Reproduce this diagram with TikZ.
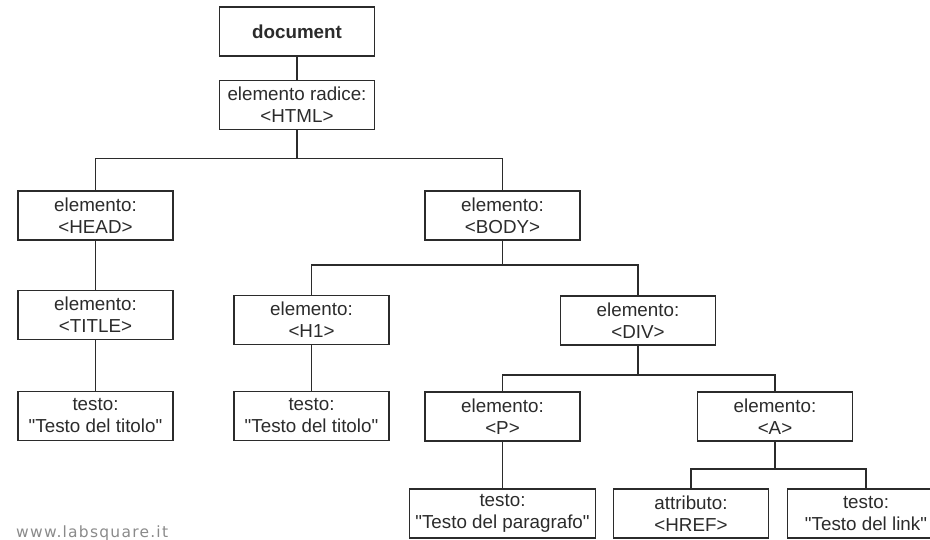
\documentclass[tikz,border=0pt]{standalone}
\usepackage{fontspec}
\setmainfont{Liberation Sans}
\newfontfamily\wmfont{DejaVu Sans}[LetterSpace=8]
\definecolor{domInk}{HTML}{2B2B2B}
\definecolor{domGray}{HTML}{8A8A8A}
\newcommand{\dq}{\textquotedbl}

\begin{document}
\begin{tikzpicture}[x=1pt,y=-1pt]
    \tikzstyle{dombox}=[draw=domInk, line width=1.6pt, minimum width=155pt,
      minimum height=49pt, inner sep=1pt, align=center, text=domInk,
      font=\fontsize{18.8}{22}\selectfont]
    \tikzstyle{branch}=[draw=domInk, line width=1.5pt]

    \clip (0,0) rectangle (930,539);

    \node[dombox, font=\fontsize{18.8}{22}\selectfont\bfseries] (doc) at (297,31.5) {document};
    \node[dombox] (html) at (297,105) {elemento radice:\\<HTML>};
    \node[dombox] (head) at (95.5,215.5) {elemento:\\<HEAD>};
    \node[dombox] (body) at (502.5,215.5) {elemento:\\<BODY>};
    \node[dombox] (title) at (95.5,315) {elemento:\\<TITLE>};
    \node[dombox] (h1) at (311.5,320) {elemento:\\<H1>};
    \node[dombox] (div) at (638,320.5) {elemento:\\<DIV>};
    \node[dombox] (txttitle) at (95.5,416) {testo:\\\dq Testo del titolo\dq};
    \node[dombox] (txth1) at (311.5,416) {testo:\\\dq Testo del titolo\dq};
    \node[dombox] (p) at (502.5,416.5) {elemento:\\<P>};
    \node[dombox] (a) at (775,416.5) {elemento:\\<A>};
    \node[dombox, minimum width=186pt] (txtpar) at (502.5,513.5) {testo:\\\dq Testo del paragrafo\dq};
    \node[dombox] (href) at (691,513.5) {attributo:\\<HREF>};
    \node[dombox, minimum width=157pt] (txtlink) at (866,513.5) {testo:\\\dq Testo del link\dq};

    \node[anchor=base west, inner sep=0pt, text=domGray, font=\wmfont\fontsize{15.5}{18}\selectfont] (site) at (16,537) {www.labsquare.it};

    \draw[branch] (doc.south) -- (html.north);
    \draw[branch] (html.south) -- ++(0,28) -| (head.north);
    \draw[branch] (html.south) -- ++(0,28) -| (body.north);
    \draw[branch] (head.south) -- (title.north);
    \draw[branch] (title.south) -- (txttitle.north);
    \draw[branch] (body.south) -- ++(0,24) -| (h1.north);
    \draw[branch] (body.south) -- ++(0,24) -| (div.north);
    \draw[branch] (h1.south) -- (txth1.north);
    \draw[branch] (div.south) -- ++(0,29) -| (p.north);
    \draw[branch] (div.south) -- ++(0,29) -| (a.north);
    \draw[branch] (p.south) -- (txtpar.north);
    \draw[branch] (a.south) -- ++(0,27) -| (href.north);
    \draw[branch] (a.south) -- ++(0,27) -| (txtlink.north);
\end{tikzpicture}
\end{document}
